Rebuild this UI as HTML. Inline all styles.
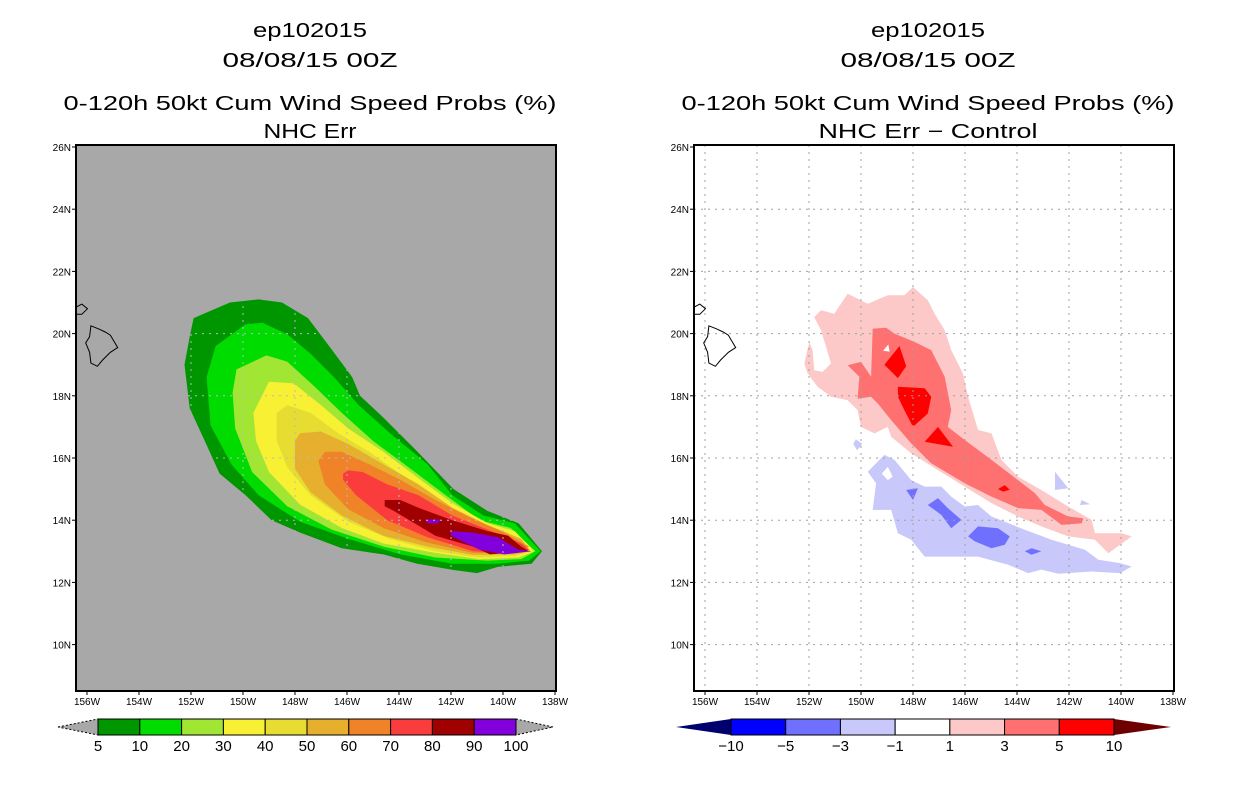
<!DOCTYPE html>
<html><head><meta charset="utf-8"><style>
body{margin:0;background:#fff;width:1236px;height:800px;overflow:hidden}
svg{display:block}
text{font-family:"Liberation Sans",sans-serif}
</style></head><body>
<svg id="chart" width="1236" height="800" viewBox="0 0 1236 800" xmlns="http://www.w3.org/2000/svg"></svg>
<script>
// ---- data ----
const lonTicks=[156,154,152,150,148,146,144,142,140,138];
const latTicks=[26,24,22,20,18,16,14,12,10];
const leftLevels=["5","10","20","30","40","50","60","70","80","90","100"];
const leftColors=["#009600","#00dc00","#a0e632","#f8f032","#e6dc32","#e6af2d","#f08228","#fa3c3c","#a00000","#8200dc"];
const rightLevels=["−10","−5","−3","−1","1","3","5","10"];
const rightColors=["#0000ff","#7070ff","#c8c8fa","#ffffff","#fcc8c8","#ff7070","#ff0000"];
const cont5=[[151.9,20.5],[150.5,21.0],[149.4,21.1],[148.5,21.0],[147.5,20.5],[146.6,19.5],[145.8,18.6],[145.5,18.0],[144.6,17.3],[143.4,16.3],[141.9,15.0],[140.6,14.3],[139.4,13.9],[138.5,13.0],[138.9,12.6],[140.2,12.5],[141.0,12.3],[141.9,12.4],[143.3,12.6],[144.6,12.9],[146.2,13.1],[147.8,13.6],[148.9,14.0],[149.9,14.8],[150.9,15.5],[151.5,16.6],[152.05,17.6],[152.25,19.0],[152.05,19.9]];
const cont10=[[151.05,19.6],[149.9,20.3],[149.25,20.35],[148.3,19.98],[147.4,19.35],[146.5,18.6],[145.55,17.7],[144.35,16.8],[142.9,15.8],[141.95,14.8],[140.75,14.15],[139.55,13.9],[138.55,13.0],[139.0,12.7],[140.2,12.6],[141.95,12.6],[143.95,12.9],[145.95,13.4],[147.8,13.95],[149.4,14.8],[150.45,15.8],[151.25,17.05],[151.4,18.6]];
const cont20=[[150.25,18.85],[149.1,19.3],[148.3,19.1],[147.25,18.3],[146.2,17.45],[145.0,16.55],[143.55,15.65],[142.2,14.8],[140.9,14.0],[139.7,13.75],[138.75,13.0],[139.3,12.75],[140.6,12.7],[142.6,12.8],[144.6,13.15],[146.6,13.7],[148.3,14.45],[149.65,15.55],[150.3,16.95],[150.4,18.1]];
const cont30=[[149.6,17.45],[149.0,18.45],[148.05,18.4],[147.0,17.7],[145.95,16.95],[144.6,16.2],[143.25,15.35],[141.95,14.55],[140.6,13.9],[139.55,13.65],[138.8,13.0],[139.4,12.8],[140.9,12.75],[142.6,12.95],[144.6,13.25],[146.2,13.75],[147.8,14.5],[149.0,15.55],[149.5,16.55]];
const cont40=[[148.7,17.45],[148.3,17.7],[147.4,17.45],[146.35,16.8],[145.15,16.2],[143.8,15.4],[142.5,14.65],[141.15,14.0],[139.8,13.6],[138.9,13.0],[139.55,12.85],[141.0,12.8],[142.6,13.0],[144.35,13.4],[145.95,13.95],[147.4,14.8],[148.3,15.7],[148.7,16.55]];
const cont50=[[148.0,16.55],[147.8,16.8],[147.0,16.85],[145.95,16.45],[144.6,15.8],[143.25,15.15],[141.95,14.4],[140.6,13.85],[139.3,13.4],[138.95,13.0],[139.55,12.9],[141.15,12.88],[142.9,13.15],[144.6,13.5],[146.2,14.15],[147.4,14.9],[148.0,15.65]];
const cont60=[[147.1,15.9],[146.85,16.2],[146.2,16.2],[145.15,15.8],[143.95,15.3],[142.6,14.65],[141.3,14.1],[139.95,13.6],[139.0,13.15],[139.55,12.95],[141.15,12.95],[143.0,13.3],[144.6,13.75],[145.95,14.35],[146.85,15.15]];
const cont70=[[146.15,15.5],[145.95,15.6],[145.4,15.55],[144.45,15.15],[143.25,14.8],[141.95,14.15],[140.6,13.7],[139.3,13.25],[139.0,13.05],[139.7,12.95],[141.15,13.0],[142.9,13.45],[144.45,14.0],[145.65,14.8],[146.15,15.3]];
const cont80=[[144.55,14.65],[143.95,14.65],[143.25,14.4],[141.95,14.0],[140.6,13.65],[139.8,13.5],[139.3,13.15],[139.0,13.0],[140.5,12.9],[141.15,13.15],[142.6,13.5],[144.2,14.3],[144.55,14.45]];
const cont90=[[142.0,13.65],[141.15,13.6],[140.2,13.45],[139.4,13.05],[138.9,13.0],[139.95,12.9],[140.9,13.05],[142.0,13.5]];
const cont90b=[[143.0,14.02],[142.4,14.02],[142.5,13.9],[142.9,13.9]];
const leftContours=[cont5,cont10,cont20,cont30,cont40,cont50,cont60,cont70,cont80,cont90,cont90b];
const leftContourColor=[0,1,2,3,4,5,6,7,8,9,9];
const diffPos1=[[151.8,20.53],[151.54,20.75],[151.03,20.64],[150.51,21.28],[149.74,20.96],[148.97,21.23],[148.33,21.23],[148.0,21.5],[147.43,21.07],[147.17,20.64],[146.78,20.11],[146.53,19.47],[146.08,18.72],[145.88,17.97],[145.5,16.9],[144.98,16.79],[144.6,15.94],[143.96,15.4],[143.06,14.97],[142.03,14.44],[141.13,14.01],[141.0,13.58],[139.97,13.58],[139.59,13.48],[140.49,12.94],[141.0,13.37],[142.03,13.48],[143.06,13.8],[143.96,14.12],[144.98,14.55],[146.01,15.08],[147.04,15.61],[148.07,16.15],[148.84,16.68],[148.97,17.0],[149.48,16.79],[150.0,17.0],[150.13,17.54],[150.51,17.86],[151.15,17.97],[151.67,18.29],[152.05,18.72],[152.18,19.04],[151.99,19.73],[151.86,19.47],[151.8,18.82],[151.48,18.77],[151.15,19.04],[151.54,20.11]];
const diffPos3=[[149.55,20.16],[149.03,20.19],[148.71,20.0],[147.94,19.73],[147.3,19.47],[146.78,18.61],[146.53,17.54],[146.66,17.0],[146.01,16.58],[144.98,15.94],[143.96,15.29],[143.31,14.87],[142.93,14.49],[142.03,14.12],[141.45,14.06],[141.51,13.9],[142.29,13.85],[143.06,14.33],[143.96,14.39],[144.98,14.76],[146.01,15.19],[147.3,15.83],[148.07,16.47],[148.84,17.22],[149.35,17.75],[149.61,17.97],[150.13,17.91],[150.06,18.61],[150.51,18.98],[150.0,19.09],[149.61,18.61]];
const diffHole1=[[149.15,19.45],[148.95,19.65],[148.9,19.42]];
const diffPos5a=[[149.1,19.0],[148.52,19.6],[148.26,18.95],[148.58,18.57]];
const diffPos5b=[[148.58,18.29],[147.55,18.24],[147.3,17.97],[147.43,17.43],[148.0,17.0],[148.33,17.54],[148.58,17.97]];
const diffPos5c=[[147.55,16.52],[147.04,17.0],[146.46,16.36]];
const diffPos5d=[[144.73,15.0],[144.47,15.13],[144.28,14.98],[144.53,14.92]];
const diffNeg1=[[149.74,15.56],[149.1,16.1],[148.71,15.94],[148.07,15.29],[147.55,15.08],[146.91,15.08],[146.53,14.76],[146.01,14.44],[145.5,14.49],[144.98,14.12],[143.7,13.69],[142.67,13.37],[141.39,13.05],[140.87,12.73],[140.04,12.62],[139.59,12.51],[140.04,12.3],[141.13,12.35],[142.41,12.28],[143.06,12.41],[143.57,12.3],[144.34,12.57],[145.5,12.83],[146.66,12.83],[147.55,12.83],[148.07,13.37],[148.58,13.58],[148.84,14.33],[149.55,14.33],[149.42,15.19]];
const diffHole2=[[148.97,15.72],[148.78,15.4],[148.97,15.29],[149.2,15.5]];
const diffNeg1b=[[150.2,16.6],[149.95,16.45],[150.15,16.25],[150.3,16.45]];
const diffNeg1c=[[142.54,15.56],[142.03,15.03],[142.54,14.97]];
const diffNeg1d=[[141.51,14.65],[141.19,14.51],[141.58,14.49]];
const diffNeg3a=[[148.26,14.97],[147.81,15.03],[148.0,14.65]];
const diffNeg3b=[[147.43,14.49],[147.04,14.71],[146.66,14.39],[146.14,14.01],[146.53,13.74],[146.91,14.17]];
const diffNeg3c=[[145.88,13.48],[145.5,13.8],[144.73,13.74],[144.28,13.48],[144.47,13.21],[144.98,13.1],[145.63,13.32]];
const diffNeg3d=[[143.7,13.0],[143.44,13.1],[143.06,13.0],[143.44,12.89]];
const rightContours=[diffPos1,diffPos3,diffHole1,diffPos5a,diffPos5b,diffPos5c,diffPos5d,diffNeg1,diffHole2,diffNeg1b,diffNeg1c,diffNeg1d,diffNeg3a,diffNeg3b,diffNeg3c,diffNeg3d];
const rightContourColor=[4,5,3,6,6,6,6,2,3,2,2,2,1,1,1,1];
const bigIsland=[[155.85,20.25],[155.55,20.15],[155.3,20.05],[155.1,19.95],[154.82,19.55],[155.1,19.4],[155.4,19.15],[155.6,18.95],[155.85,19.05],[155.9,19.4],[156.05,19.7],[155.9,19.9]];
const maui=[[156.42,20.85],[156.2,20.95],[155.98,20.8],[156.2,20.62],[156.42,20.62]];

// ---- drawing ----
const svg=document.getElementById('chart');
const NS='http://www.w3.org/2000/svg';
function mk(tag,attrs,parent){const e=document.createElementNS(NS,tag);for(const k in attrs)e.setAttribute(k,attrs[k]);(parent||svg).appendChild(e);return e;}
const plotTop=145,plotBot=691;
function xScale(off){return lon=>off+87+(156-lon)*26;}
function yScale(lat){return 147+(26-lat)*31.1;}
function pts(poly,xs){return poly.map(p=>xs(p[0]).toFixed(1)+','+yScale(p[1]).toFixed(1)).join(' ');}

function panel(off,name,bg,gridCol,titleLines,titleWidths,contours,cidx,colors,gridClipPoly){
  const g=mk('g',{});
  
  
  const xs=xScale(off);
  const L=off+76,R=off+556;
  const cx=(L+R)/2-6;
  const ty=[30,60,103,131];
  titleLines.forEach((t,i)=>{const e=mk('text',{x:cx,y:ty[i]+7,'text-anchor':'middle','font-size':20,fill:'#000',textLength:titleWidths[i],lengthAdjust:'spacingAndGlyphs'},g);e.textContent=t;
    
    });
  const clipId='clip'+off;
  const cp=mk('clipPath',{id:clipId},g);mk('rect',{x:L,y:plotTop,width:R-L,height:plotBot-plotTop},cp);
  const bgR=mk('rect',{x:L,y:plotTop,width:R-L,height:plotBot-plotTop,fill:bg},g);
  
  
  const cg=mk('g',{'clip-path':'url(#'+clipId+')'},g);
  contours.forEach((c,i)=>{const p=mk('polygon',{points:pts(c,xs),fill:colors[cidx[i]]},cg);
    
    });
  let gg=cg;
  if(gridClipPoly){const gid='gclip'+off;const gcp=mk('clipPath',{id:gid},g);mk('polygon',{points:pts(gridClipPoly,xs)},gcp);gg=mk('g',{'clip-path':'url(#'+gid+')'},cg);}
  lonTicks.forEach(lon=>{const x=xs(lon);if(x>L+2&&x<R-2)mk('line',{x1:x,x2:x,y1:plotTop,y2:plotBot,stroke:gridCol,'stroke-width':1,'stroke-dasharray':'2,5'},gg);});
  latTicks.forEach(lat=>{const y=yScale(lat);if(y>plotTop+2&&y<plotBot-2)mk('line',{x1:L,x2:R,y1:y,y2:y,stroke:gridCol,'stroke-width':1,'stroke-dasharray':'2,5'},gg);});
  [bigIsland,maui].forEach(c=>{const p=mk('polygon',{points:pts(c,xs),fill:'none',stroke:'#000','stroke-width':1},cg);
    
    });
  const fr=mk('rect',{x:L,y:plotTop,width:R-L,height:plotBot-plotTop,fill:'none',stroke:'#000','stroke-width':2},g);
  
  
  lonTicks.forEach(lon=>{const x=xs(lon);mk('line',{x1:x,x2:x,y1:plotBot,y2:plotBot+4,stroke:'#000'},g);
    const t=mk('text',{x:x,y:705,'text-anchor':'middle','font-size':10},g);t.textContent=lon+'W';
    
    });
  latTicks.forEach(lat=>{const y=yScale(lat);mk('line',{x1:L-4,x2:L,y1:y,y2:y,stroke:'#000'},g);
    const t=mk('text',{x:L-5,y:y+4,'text-anchor':'end','font-size':10},g);t.textContent=lat+'N';
    
    });
  return g;
}
panel(0,'left-panel','#a8a8a8','#b8b8d0',["ep102015","08/08/15 00Z","0-120h 50kt Cum Wind Speed Probs (%)","NHC Err"],[114,175,493,93],leftContours,leftContourColor,leftColors,cont5);
panel(618,'right-panel','#ffffff','#a0a0a0',["ep102015","08/08/15 00Z","0-120h 50kt Cum Wind Speed Probs (%)","NHC Err − Control"],[114,175,493,219],rightContours,rightContourColor,rightColors,null);

function colorbar(name,x0,x1,t0,t1,colors,labels,triL,triR,dashed){
  const g=mk('g',{});
  
  
  const y0=719,y1=735,ym=727,w=(x1-x0)/colors.length;
  const sa=dashed?{stroke:'#000','stroke-width':1,'stroke-dasharray':'2,2'}:{stroke:'none'};
  mk('polygon',Object.assign({points:`${t0},${ym} ${x0},${y0} ${x0},${y1}`,fill:triL},sa),g);
  mk('polygon',Object.assign({points:`${t1},${ym} ${x1},${y0} ${x1},${y1}`,fill:triR},sa),g);
  colors.forEach((c,i)=>{const r=mk('rect',{x:x0+i*w,y:y0,width:w,height:y1-y0,fill:c,stroke:'#000','stroke-width':1},g);
    
    });
  labels.forEach((l,i)=>{const t=mk('text',{x:x0+i*w,y:751,'text-anchor':'middle','font-size':15},g);t.textContent=l;
    
    });
}
colorbar('left-colorbar',98,516,58,553,leftColors,leftLevels,'#a8a8a8','#a8a8a8',true);
colorbar('right-colorbar',731,1114,676,1171,rightColors,rightLevels,'#00006e','#6e0000',false);
</script>
</body></html>
